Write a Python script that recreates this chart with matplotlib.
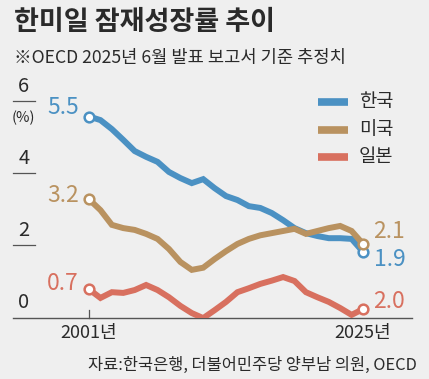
import matplotlib
matplotlib.use("Agg")
import matplotlib.pyplot as plt

plt.rcParams['font.family'] = ['Noto Sans CJK KR', 'DejaVu Sans']

W, H = 429, 379
BG = "#efefef"
TXT = "#2a2a2a"

years = list(range(2001, 2026))
korea = [5.5, 5.4, 5.15, 4.85, 4.54, 4.38, 4.24, 3.96, 3.79, 3.65, 3.76, 3.51,
         3.29, 3.18, 3.01, 2.96, 2.82, 2.62, 2.4, 2.26, 2.18, 2.12, 2.12, 2.1, 1.74]
usa = [3.2, 2.9, 2.49, 2.4, 2.35, 2.24, 2.1, 1.82, 1.46, 1.24, 1.3, 1.54,
       1.76, 1.96, 2.1, 2.2, 2.26, 2.32, 2.38, 2.24, 2.32, 2.4, 2.46, 2.32, 1.96]
japan = [0.7, 0.46, 0.62, 0.6, 0.68, 0.82, 0.68, 0.48, 0.24, 0.04, -0.1, 0.12,
         0.35, 0.62, 0.73, 0.85, 0.94, 1.04, 0.93, 0.62, 0.48, 0.35, 0.18, -0.01, 0.15]

names = ["한국", "미국", "일본"]
colors = ["#4b91c3", "#b99260", "#d8705f"]
start_labels = ["5.5", "3.2", "0.7"]
end_labels = ["1.9", "2.1", "2.0"]
yticks = [0, 2, 4, 6]


def px(x, y):
    return x / W, 1 - y / H


fig = plt.figure(figsize=(W / 100, H / 100), dpi=100, facecolor=BG)
ax = fig.add_axes([13 / W, (H - 318) / H, (412 - 13) / W, (318 - 80) / H])
ax.set_facecolor(BG)
ax.set_xlim(1994.34, 2029.29)
ax.set_ylim(-0.097, 6.514)
for s in ["top", "right", "left"]:
    ax.spines[s].set_visible(False)
ax.spines["bottom"].set_color("#555555")
ax.spines["bottom"].set_linewidth(1.0)
ax.set_xticks([])
ax.set_yticks([])

series = [korea, usa, japan]
for vals, c in zip(series, colors):
    ax.plot(years, vals, color=c, lw=4.3, solid_joinstyle="miter",
            solid_capstyle="butt", zorder=3)
    ax.plot([years[0], years[-1]], [vals[0], vals[-1]], ls="none",
            marker="o", ms=7, mfc="white", mec=c, mew=1.8, zorder=4)

# y ticks: label above a short rule
for v in yticks:
    ax.text(0.027, v + 0.32, str(v), transform=ax.get_yaxis_transform(),
            ha="center", va="center", fontsize=14.5, color=TXT)
    if v > 0:
        ax.plot([0, 0.056], [v - 0.08, v - 0.08], transform=ax.get_yaxis_transform(),
                color="#555555", lw=0.9, clip_on=False)
ax.text(0.027, 5.45, "(%)", transform=ax.get_yaxis_transform(),
        ha="center", va="center", fontsize=10.5, color=TXT)

# x ticks
ax.plot([2001, 2001], [-0.097, 0.13], color="#555555", lw=0.9, clip_on=False)
ax.text(2001, -0.5, "2001년", ha="center", va="center", fontsize=13,
        color=TXT, clip_on=False)
ax.text(2025, -0.5, "2025년", ha="center", va="center", fontsize=13,
        color=TXT, clip_on=False)

# value labels
start_y = [107, 195, 283]
for lab, c, yy in zip(start_labels, colors, start_y):
    fig.text(*px(79, yy), lab, ha="right", va="center", fontsize=16.5,
             color=c)
end_pos = [(374, 260), (373, 232), (373, 302)]
for lab, c, (xx, yy) in zip(end_labels, colors, end_pos):
    fig.text(*px(xx, yy), lab, ha="left", va="center", fontsize=16.5, color=c)

# legend
leg_y = [102, 130, 157]
for n, c, yy in zip(names, colors, leg_y):
    fig.add_artist(plt.Line2D([318 / W, 348 / W], [1 - yy / H, 1 - yy / H],
                              color=c, lw=5.5, solid_capstyle="butt"))
    fig.text(*px(359, yy), n, ha="left", va="center", fontsize=13.5, color=TXT)

# titles
fig.text(*px(14, 22), "한미일 잠재성장률 추이", ha="left", va="center",
         fontsize=19.5, fontweight="bold", color=TXT)
fig.text(*px(14, 58), "※OECD 2025년 6월 발표 보고서 기준 추정치", ha="left",
         va="center", fontsize=12.7, color=TXT)
fig.text(*px(417, 365), "자료:한국은행, 더불어민주당 양부남 의원, OECD",
         ha="right", va="center", fontsize=11.8, color=TXT)

fig.savefig("out.png", dpi=100, facecolor=BG)
